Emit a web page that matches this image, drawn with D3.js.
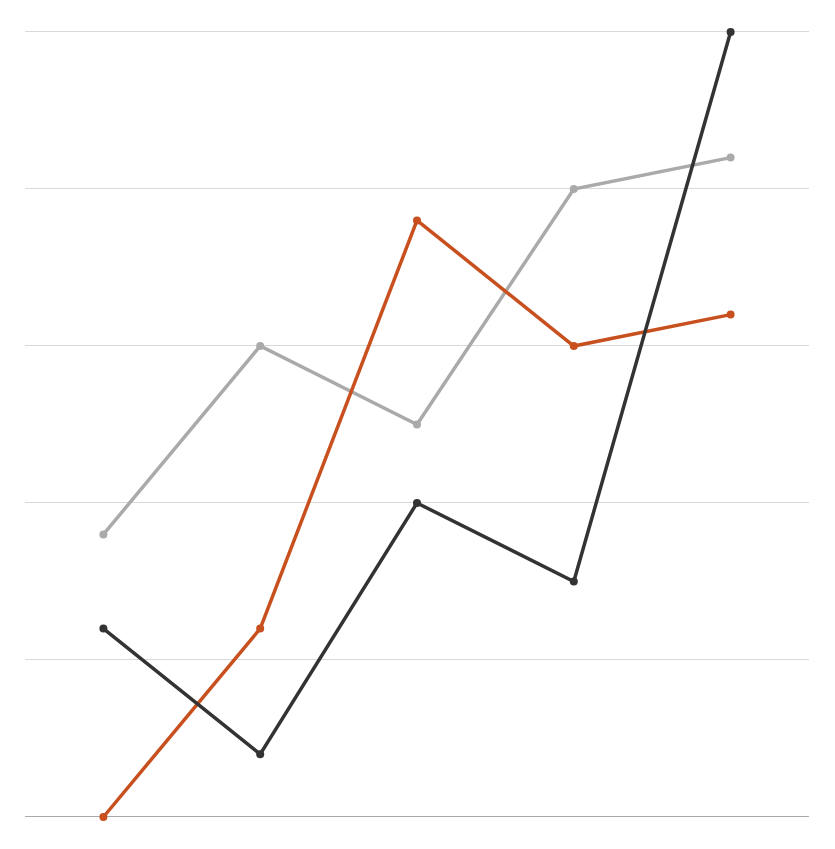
<!DOCTYPE html>
<meta charset="utf-8">
<style>
    body { margin: 0; background: #fff; }
</style>
<script src="https://d3js.org/d3.v7.min.js"></script>
<div id="chart"></div>
<script>
    // categories and series
    var categories = ["A", "B", "C", "D", "E"];
    var grayValues = [1.8, 3, 2.5, 4, 4.2];
    var orangeValues = [0, 1.2, 3.8, 3, 3.2];
    var darkValues = [1.2, 0.4, 2, 1.5, 5];
    var yTicks = [0, 1, 2, 3, 4, 5];

    var series = [
        {values: grayValues, color: "#aaaaaa"},
        {values: orangeValues, color: "#c8501f"},
        {values: darkValues, color: "#333333"}
    ];

    var margin = {top: 32, right: 26, bottom: 32, left: 25},
        width = 835 - margin.left - margin.right,
        height = 849 - margin.top - margin.bottom;

    var svg = d3.select("#chart")
        .append("svg")
        .attr("width", 835)
        .attr("height", 849)
        .append("g")
        .attr("transform", "translate(" + margin.left + "," + margin.top + ")");

    var x = d3.scalePoint()
        .domain(categories)
        .range([0, width])
        .padding(0.5);

    var y = d3.scaleLinear()
        .domain([0, 5])
        .range([height, 0]);

    // gridlines
    svg.append("g")
        .selectAll("line")
        .data(yTicks)
        .enter()
        .append("line")
        .attr("x1", 0)
        .attr("x2", width)
        .attr("y1", function (d) { return Math.round(y(d)) - 0.5; })
        .attr("y2", function (d) { return Math.round(y(d)) - 0.5; })
        .style("stroke", function (d) { return d === 0 ? "#aaaaaa" : "#d9d9d9"; })
        .style("stroke-width", 1);

    var line = d3.line()
        .x(function (d, i) { return x(categories[i]); })
        .y(function (d) { return y(d); });

    var groups = svg.selectAll(".series")
        .data(series)
        .enter()
        .append("g")
        .attr("class", "series");

    groups.append("path")
        .attr("d", function (s) { return line(s.values); })
        .style("fill", "none")
        .style("stroke", function (s) { return s.color; })
        .style("stroke-width", 3.5);

    groups.each(function (s) {
        d3.select(this).selectAll("circle")
            .data(s.values)
            .enter()
            .append("circle")
            .attr("cx", function (d, i) { return x(categories[i]); })
            .attr("cy", function (d) { return y(d); })
            .attr("r", 4)
            .style("fill", s.color);
    });
</script>
